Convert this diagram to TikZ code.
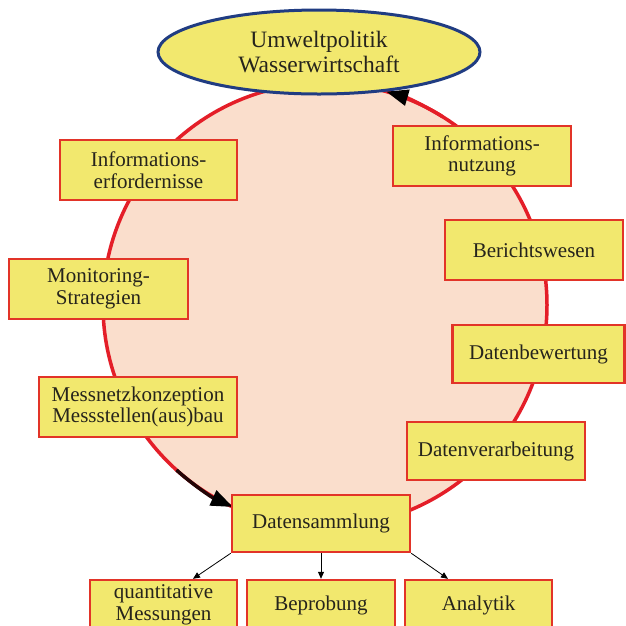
\documentclass[tikz,border=0pt]{standalone}
\usepackage{fontspec}
\setmainfont{Liberation Serif}
\usetikzlibrary{arrows.meta,shapes.geometric,calc}
\definecolor{boxyellow}{RGB}{242,232,110}
\definecolor{boxred}{RGB}{226,52,40}
\definecolor{ringred}{RGB}{228,30,40}
\definecolor{peach}{RGB}{250,222,204}
\definecolor{ellblue}{RGB}{32,60,130}
\definecolor{txt}{RGB}{38,36,28}
\begin{document}
\begin{tikzpicture}[x=1pt,y=-1pt,
  box/.style={draw=boxred, line width=2.4pt, fill=boxyellow, text=txt,
    inner sep=0pt, align=center, font=\fontsize{21}{21.5}\selectfont},
  smallarrow/.style={draw=black, line width=0.8pt, -{Triangle[length=7pt,width=6pt]}},
  bigtip/.style={-{Triangle[length=22pt,width=16pt,color=black,fill=black]}}
]
\useasboundingbox (0,0) rectangle (626,625);
\fill[white] (0,0) rectangle (626,625);

% ring
\node[circle, draw=ringred, fill=peach, line width=3.5pt, minimum size=444pt, inner sep=0pt] (ring) at (325,305) {};

% arrows on the ring
\draw[ringred, line width=3.5pt, bigtip]
  ([shift={(-58:222)}]ring.center) arc[start angle=-58, end angle=-74, radius=222];
\draw[black!85!ringred, line width=3.5pt, bigtip]
  ([shift={(132:222)}]ring.center) arc[start angle=132, end angle=114.5, radius=222];

% top ellipse
\node[ellipse, draw=ellblue, line width=3pt, fill=boxyellow, text=txt,
  minimum width=322pt, minimum height=84pt, inner sep=0pt, align=center,
  font=\fontsize{23.5}{25}\selectfont] (top) at (319,52) {Umweltpolitik\\Wasserwirtschaft};

% boxes on the left
\node[box, minimum width=177pt, minimum height=60pt] (infoerf) at (148.5,170) {Informations-\\erfordernisse};
\node[box, minimum width=179pt, minimum height=60pt] (monit) at (98.5,289) {Monitoring-\\Strategien};
\node[box, minimum width=198pt, minimum height=60pt] (messnetz) at (138,407) {Messnetzkonzeption\\Messstellen(aus)bau};

% boxes on the right
\node[box, minimum width=178pt, minimum height=60pt] (infonutz) at (482,156) {Informations-\\nutzung};
\node[box, minimum width=178pt, minimum height=60pt] (bericht) at (534,250) {Berichtswesen};
\node[box, minimum width=172pt, minimum height=58pt] (bewert) at (538.5,354) {Datenbewertung};
\node[box, minimum width=178pt, minimum height=58pt] (verarb) at (496,451) {Datenverarbeitung};

% bottom
\node[box, minimum width=178pt, minimum height=57pt] (samml) at (321,523.5) {Datensammlung};
\node[box, minimum width=147pt, minimum height=50pt] (quant) at (163.5,605) {quantitative\\Messungen};
\node[box, minimum width=148pt, minimum height=50pt] (beprob) at (321,605) {Beprobung};
\node[box, minimum width=147pt, minimum height=50pt] (analyt) at (478.5,605) {Analytik};

\draw[smallarrow] (samml.south west) -- ($(quant.north)+(29.5,0)$);
\draw[smallarrow] (samml.south) -- (beprob.north);
\draw[smallarrow] (samml.south east) -- ($(analyt.north)+(-30.5,0)$);
\end{tikzpicture}
\end{document}
